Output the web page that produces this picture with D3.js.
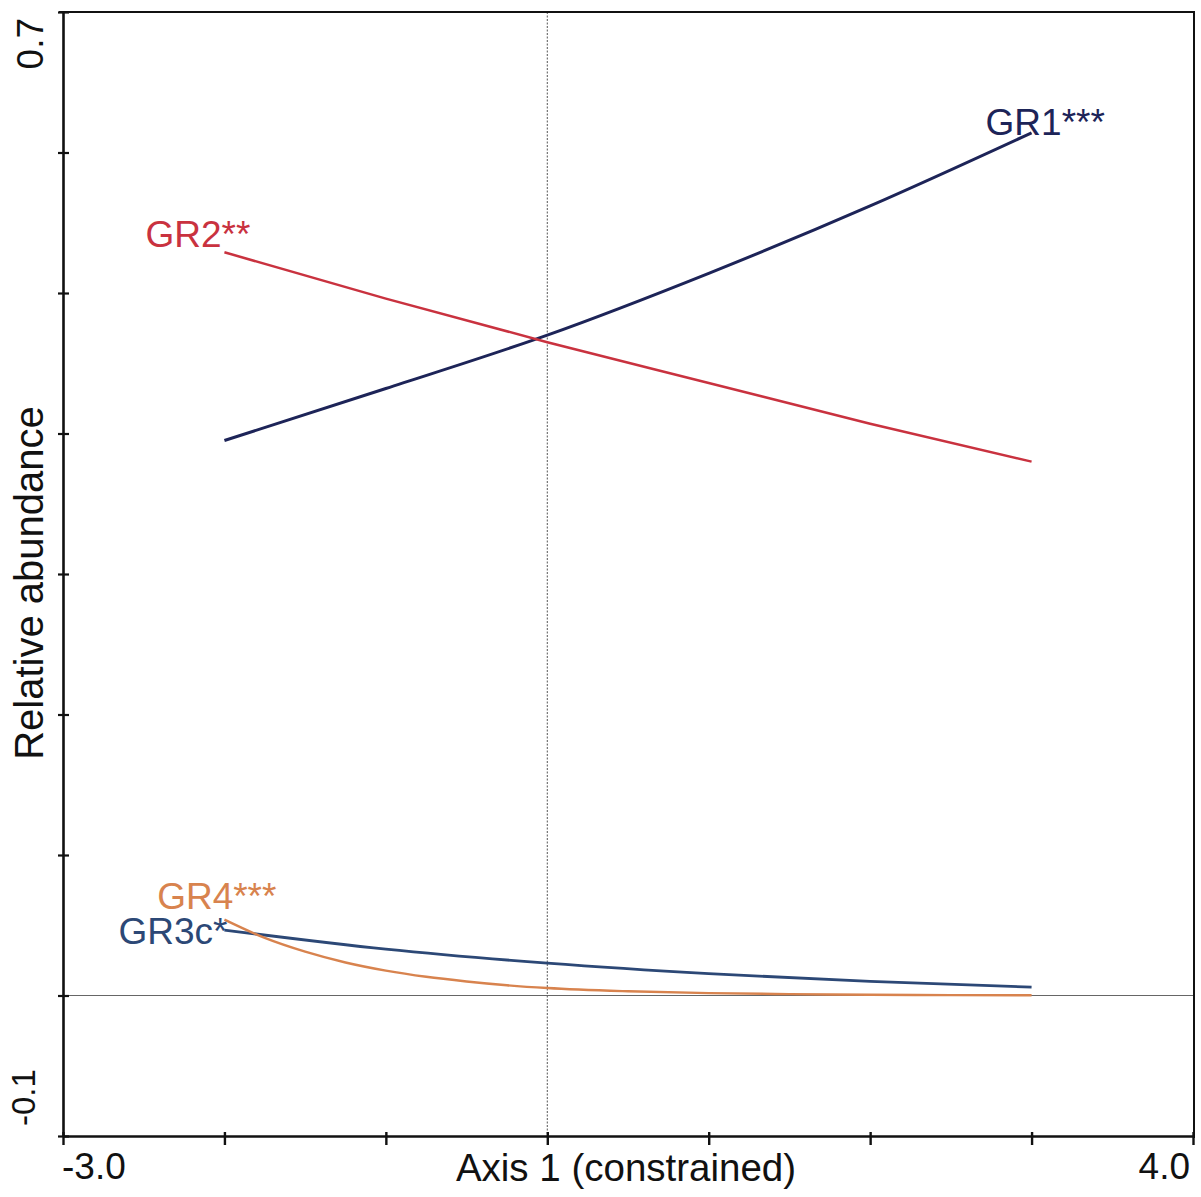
<!DOCTYPE html>
<html>
<head>
<meta charset="utf-8">
<script src="https://cdn.jsdelivr.net/npm/d3@7"></script>
<style>
  html, body { margin: 0; padding: 0; background: #fff; }
  svg { display: block; font-family: "Liberation Sans", Arial, sans-serif; }
</style>
</head>
<body>
<svg id="chart" width="1201" height="1197"></svg>
<script>
// ---- data ----
const xDomain = [-3.0, 4.0];
const yDomain = [-0.1, 0.7];
const xTickValues = [-3, -2, -1, 0, 1, 2, 3, 4];
const yTickValues = [-0.1, 0, 0.1, 0.2, 0.3, 0.4, 0.5, 0.6, 0.7];
const xTickLabels = ["-3.0", "4.0"];
const yTickLabels = ["-0.1", "0.7"];
const xTitle = "Axis 1 (constrained)";
const yTitle = "Relative abundance";

const gr1X = [-2, -1, 0, 1, 2, 3];
const gr1Y = [0.395, 0.432, 0.470, 0.514, 0.562, 0.614];
const gr2X = [-2, -1, 0, 1, 2, 3];
const gr2Y = [0.529, 0.496, 0.465, 0.436, 0.407, 0.380];
const gr3cX = [-2, -1, 0, 1, 2, 3];
const gr3cY = [0.0466, 0.033, 0.023, 0.0155, 0.010, 0.006];
const gr4X = [-2, -1.75, -1.5, -1.25, -1, -0.75, -0.5, -0.25, 0, 0.5, 1, 1.5, 2, 2.5, 3];
const gr4Y = [0.054, 0.041, 0.0312, 0.0235, 0.0177, 0.0133, 0.0100, 0.0073, 0.0053, 0.003, 0.0017, 0.001, 0.0005, 0.0003, 0.0002];

const seriesNames = ["GR1***", "GR2**", "GR3c*", "GR4***"];

// ---- layout / style ----
const colors = { "GR1***": "#1d2458", "GR2**": "#c9323f", "GR3c*": "#2c4876", "GR4***": "#d8834e" };
const widths = { "GR1***": 3, "GR2**": 2.5, "GR3c*": 2.8, "GR4***": 2.4 };
const labelPlace = {
  "GR1***": { at: "last", dx: -46, dy: 2, anchor: "start" },
  "GR2**": { at: "first", dx: 26, dy: -5, anchor: "end" },
  "GR3c*": { at: "first", dx: 3, dy: 14, anchor: "end" },
  "GR4***": { at: "first", dx: 52, dy: -11, anchor: "end" }
};

const mLeft = 63, mRight = 1193, mTop = 12, mBottom = 1136;
const svg = d3.select("#chart");

const x = d3.scaleLinear().domain(xDomain).range([mLeft, mRight]);
const y = d3.scaleLinear().domain(yDomain).range([mBottom, mTop]);

const series = [
  { name: seriesNames[0], xs: gr1X, ys: gr1Y },
  { name: seriesNames[1], xs: gr2X, ys: gr2Y },
  { name: seriesNames[2], xs: gr3cX, ys: gr3cY },
  { name: seriesNames[3], xs: gr4X, ys: gr4Y }
].map(s => ({ name: s.name, pts: s.xs.map((v, i) => [v, s.ys[i]]) }));

// reference lines at 0
svg.append("line")
  .attr("x1", x(0)).attr("x2", x(0))
  .attr("y1", mTop).attr("y2", mBottom)
  .attr("stroke", "#555").attr("stroke-width", 1)
  .attr("stroke-dasharray", "2,1.5");
svg.append("line")
  .attr("x1", mLeft).attr("x2", mRight)
  .attr("y1", y(0)).attr("y2", y(0))
  .attr("stroke", "#666").attr("stroke-width", 1.2);

// frame top/right
svg.append("line").attr("x1", mLeft - 4).attr("x2", mRight + 2)
  .attr("y1", mTop).attr("y2", mTop).attr("stroke", "#111").attr("stroke-width", 2);
svg.append("line").attr("x1", mRight + 1).attr("x2", mRight + 1)
  .attr("y1", mTop).attr("y2", mBottom + 2).attr("stroke", "#111").attr("stroke-width", 2);

// axes
const xAxis = d3.axisBottom(x).tickValues(xTickValues).tickSize(0).tickFormat("");
const gx = svg.append("g").attr("transform", `translate(0,${mBottom})`).call(xAxis);
gx.select(".domain").attr("stroke", "#111").attr("stroke-width", 2.6);
gx.selectAll(".tick line").remove();
gx.selectAll(".tick").append("line")
  .attr("y1", -4).attr("y2", 9).attr("stroke", "#111").attr("stroke-width", 2.4);

const yAxis = d3.axisLeft(y).tickValues(yTickValues).tickSize(0).tickFormat("");
const gy = svg.append("g").attr("transform", `translate(${mLeft},0)`).call(yAxis);
gy.select(".domain").attr("stroke", "#111").attr("stroke-width", 2.6);
gy.selectAll(".tick line").remove();
gy.selectAll(".tick").append("line")
  .attr("x1", -5).attr("x2", 6).attr("stroke", "#111").attr("stroke-width", 2.2);

// tick labels (only ends)
svg.append("text").attr("x", x(xDomain[0]) - 1).attr("y", 1179)
  .attr("text-anchor", "start").attr("font-size", 37).attr("fill", "#111")
  .text(xTickLabels[0]);
svg.append("text").attr("x", x(xDomain[1]) - 3).attr("y", 1179)
  .attr("text-anchor", "end").attr("font-size", 37).attr("fill", "#111")
  .text(xTickLabels[1]);
svg.append("text").attr("transform", `translate(43,${y(yDomain[1]) + 6}) rotate(-90)`)
  .attr("text-anchor", "end").attr("font-size", 37).attr("fill", "#111")
  .text(yTickLabels[1]);
svg.append("text").attr("transform", `translate(35,${y(yDomain[0]) - 10}) rotate(-90)`)
  .attr("text-anchor", "start").attr("font-size", 33).attr("fill", "#111")
  .text(yTickLabels[0]);

// axis titles
svg.append("text").attr("x", 626).attr("y", 1181)
  .attr("text-anchor", "middle").attr("font-size", 38.5).attr("fill", "#111")
  .text(xTitle);
svg.append("text").attr("transform", `translate(43,583) rotate(-90)`)
  .attr("text-anchor", "middle").attr("font-size", 40).attr("fill", "#111")
  .text(yTitle);

// lines
const line = d3.line().x(d => x(d[0])).y(d => y(d[1])).curve(d3.curveMonotoneX);
svg.append("g").selectAll("path").data(series).join("path")
  .attr("d", d => line(d.pts))
  .attr("fill", "none")
  .attr("stroke", d => colors[d.name])
  .attr("stroke-width", d => widths[d.name]);

// labels
svg.append("g").selectAll("text").data(series).join("text")
  .each(function (d) {
    const p = labelPlace[d.name];
    const pt = p.at === "first" ? d.pts[0] : d.pts[d.pts.length - 1];
    d3.select(this)
      .attr("x", x(pt[0]) + p.dx)
      .attr("y", y(pt[1]) + p.dy)
      .attr("text-anchor", p.anchor);
  })
  .attr("font-size", 37)
  .attr("fill", d => colors[d.name])
  .text(d => d.name);
</script>
</body>
</html>
